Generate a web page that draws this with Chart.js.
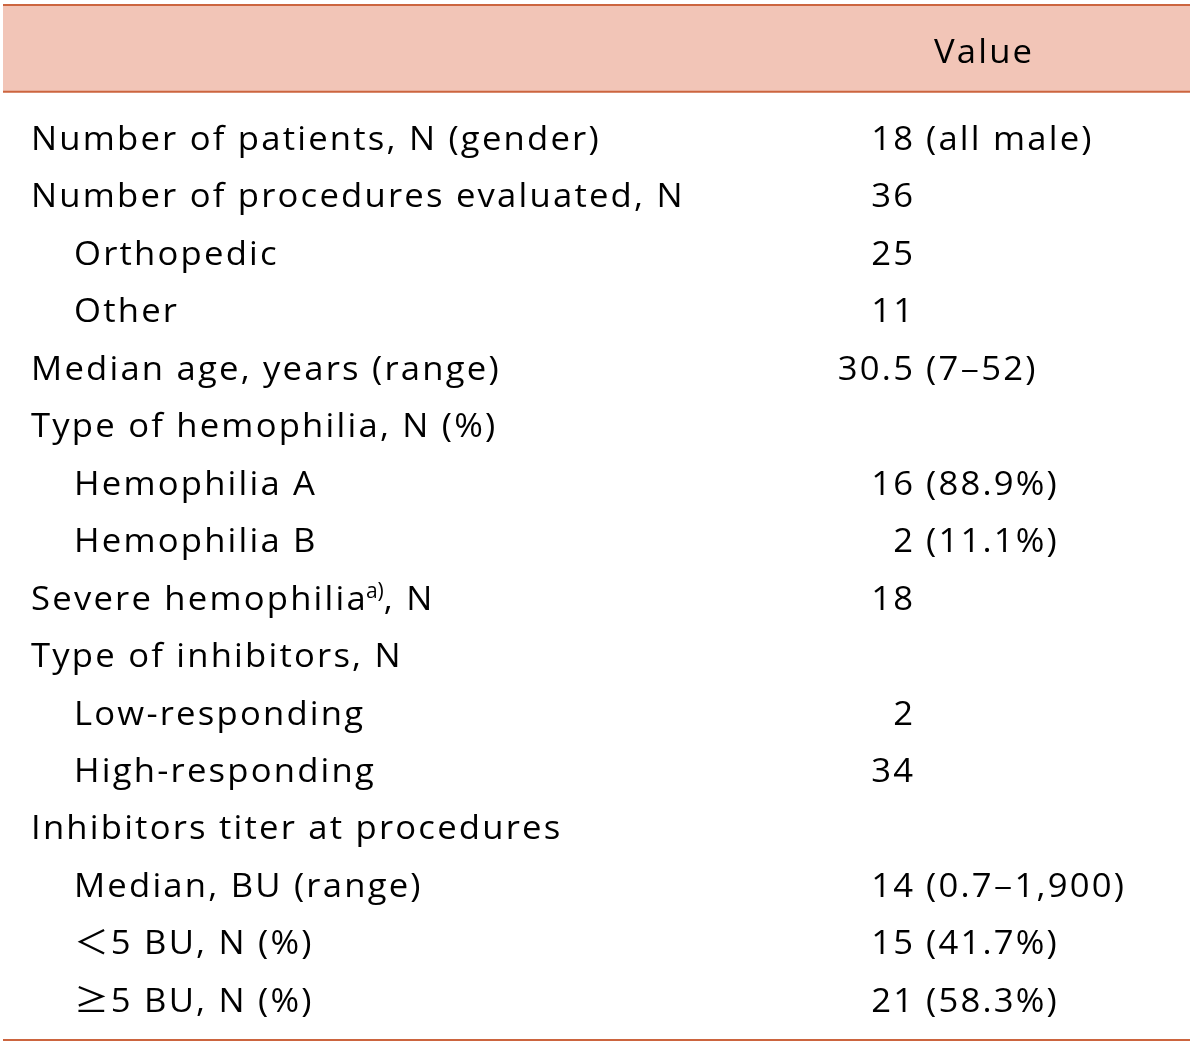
<!DOCTYPE html>
<html>
<head>
<meta charset="utf-8">
<script src="https://cdn.jsdelivr.net/npm/chart.js@4.4.1/dist/chart.umd.min.js"></script>
<style>
    html, body { margin: 0; padding: 0; background: #fff; }
    #wrap { width: 1200px; height: 1046px; }
</style>
</head>
<body>
<div id="wrap"><canvas id="tbl"></canvas></div>
<script>
// table content
const headerText = 'Value';
const rowLabels = [
    'Number of patients, N (gender)',
    'Number of procedures evaluated, N',
    'Orthopedic',
    'Other',
    'Median age, years (range)',
    'Type of hemophilia, N (%)',
    'Hemophilia A',
    'Hemophilia B',
    'Severe hemophilia{a)}, N',
    'Type of inhibitors, N',
    'Low-responding',
    'High-responding',
    'Inhibitors titer at procedures',
    'Median, BU (range)',
    '\uFF1C5 BU, N (%)',
    '\u22655 BU, N (%)'
];
const rowLevel = [0, 0, 1, 1, 0, 0, 1, 1, 0, 0, 1, 1, 0, 1, 1, 1];
const valueMain = ['18', '36', '25', '11', '30.5', '', '16', '2', '18', '', '2', '34', '', '14', '15', '21'];
const valueExtra = ['(all male)', '', '', '', '(7\u201352)', '', '(88.9%)', '(11.1%)', '', '', '', '', '', '(0.7\u20131,900)', '(41.7%)', '(58.3%)'];

// layout (row units on y, percent of table width on x)
const Y_TOP = -2.52, Y_HEAD_RULE = -1.01, Y_HEAD_TEXT = -1.51, Y_BOTTOM = 15.49;
const X_LABEL = [2.36, 5.98], X_NUM_RIGHT = 76.66, X_HEAD = 82.56;
const SIZE = 33, SX = 1.05, SPACING = 2.1;
const FONT = SIZE + 'px "Open Sans"';
const SYM_FONT = SIZE + 'px "Noto Sans CJK JP"';
const RULE = '#cc653f', BAND = '#f2c5b7', INK = '#000';

// draws a text run with horizontal stretch; symbols come from the CJK font
function runWidth(ctx, s) {
    let w = 0;
    for (const ch of s) {
        ctx.font = ch.charCodeAt(0) > 0x2000 ? SYM_FONT : FONT;
        w += ctx.measureText(ch).width;
    }
    ctx.font = FONT;
    return w * SX;
}
function drawRun(ctx, s, px, py) {
    ctx.save();
    ctx.translate(px, py);
    ctx.scale(SX, 1);
    ctx.textAlign = 'left';
    let cx = 0;
    for (const ch of s) {
        ctx.font = ch.charCodeAt(0) > 0x2000 ? SYM_FONT : FONT;
        ctx.fillText(ch, cx, 0);
        cx += ctx.measureText(ch).width;
    }
    ctx.restore();
    return runWidth(ctx, s);
}

const tablePlugin = {
    id: 'tablePlugin',
    beforeDatasetsDraw(chart) {
        const { ctx, scales: { x, y } } = chart;
        ctx.save();
        ctx.fillStyle = BAND;
        ctx.fillRect(x.left, y.getPixelForValue(Y_TOP), x.right - x.left,
            y.getPixelForValue(Y_HEAD_RULE) - y.getPixelForValue(Y_TOP));
        ctx.strokeStyle = RULE;
        ctx.lineWidth = 2;
        [Y_TOP, Y_HEAD_RULE, Y_BOTTOM].forEach(v => {
            const py = y.getPixelForValue(v);
            ctx.beginPath();
            ctx.moveTo(x.left, py);
            ctx.lineTo(x.right, py);
            ctx.stroke();
        });
        ctx.restore();
    },
    afterDatasetsDraw(chart) {
        const { ctx, scales: { x, y } } = chart;
        ctx.save();
        ctx.fillStyle = INK;
        ctx.font = FONT;
        ctx.letterSpacing = SPACING + 'px';
        ctx.textBaseline = 'alphabetic';

        const hw = runWidth(ctx, headerText) - SPACING * SX;
        drawRun(ctx, headerText, x.getPixelForValue(X_HEAD) - hw / 2, y.getPixelForValue(Y_HEAD_TEXT));

        rowLabels.forEach((label, i) => {
            const py = y.getPixelForValue(i);
            let px = x.getPixelForValue(X_LABEL[rowLevel[i]]);
            // footnote markers like {a)} are set small and raised
            label.split(/\{(.*?)\}/).forEach((part, k) => {
                if (k % 2 === 1) {
                    ctx.save();
                    ctx.font = '21px "Open Sans"';
                    ctx.letterSpacing = '0px';
                    ctx.textAlign = 'left';
                    ctx.fillText(part, px - 2, py - 12);
                    px += ctx.measureText(part).width - 2;
                    ctx.restore();
                } else if (part) {
                    px += drawRun(ctx, part, px, py);
                }
            });

            const nx = x.getPixelForValue(X_NUM_RIGHT);
            if (valueMain[i]) {
                const w = runWidth(ctx, valueMain[i]) - SPACING * SX;
                drawRun(ctx, valueMain[i], nx - w, py);
            }
            if (valueExtra[i]) {
                drawRun(ctx, valueExtra[i], nx + 13, py);
            }
        });
        ctx.restore();
    }
};

new Chart(document.getElementById('tbl'), {
    type: 'scatter',
    data: { datasets: [{ data: [], pointRadius: 0 }] },
    options: {
        responsive: true,
        maintainAspectRatio: false,
        animation: false,
        events: [],
        layout: { padding: { left: 3, right: 10, top: 5, bottom: 6 } },
        plugins: { legend: { display: false }, tooltip: { enabled: false } },
        scales: {
            x: { type: 'linear', min: 0, max: 100, display: false },
            y: { type: 'linear', min: Y_TOP, max: Y_BOTTOM, reverse: true, display: false }
        }
    },
    plugins: [tablePlugin]
});
</script>
</body>
</html>
